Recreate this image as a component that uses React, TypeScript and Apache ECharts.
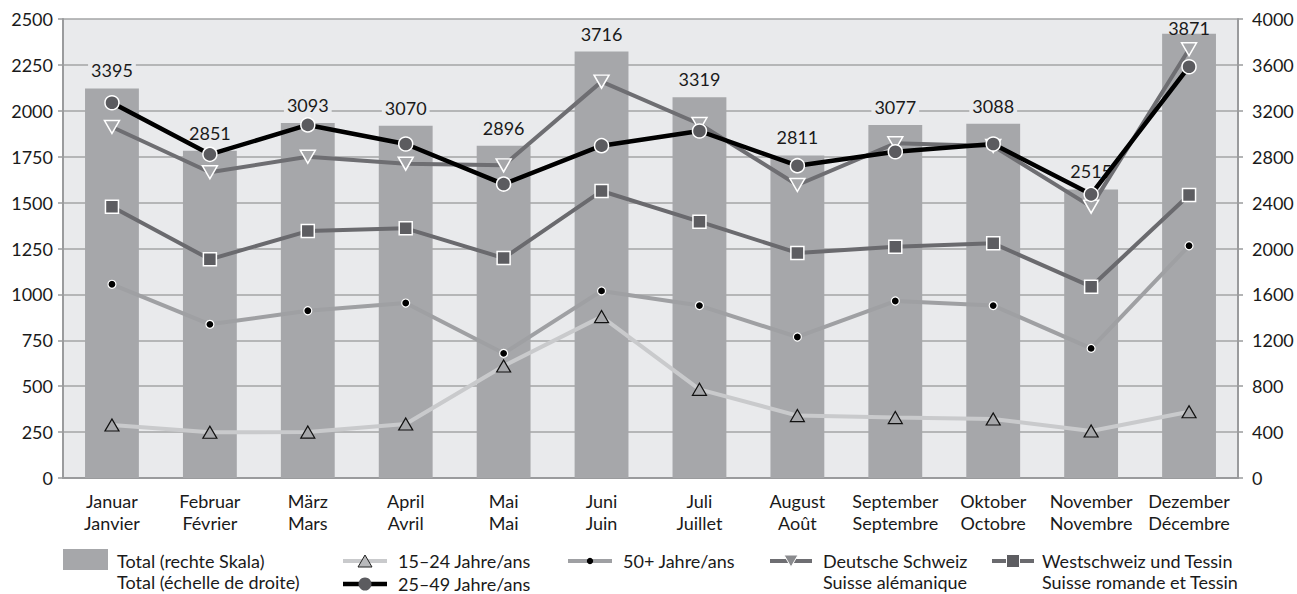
import React, { useEffect, useRef } from "react";
import * as echarts from "echarts";

const monthsDe = ["Januar", "Februar", "März", "April", "Mai", "Juni", "Juli", "August", "September", "Oktober", "November", "Dezember"];
const monthsFr = ["Janvier", "Février", "Mars", "Avril", "Mai", "Juin", "Juillet", "Août", "Septembre", "Octobre", "Novembre", "Décembre"];

const total = [3395, 2851, 3093, 3070, 2896, 3716, 3319, 2811, 3077, 3088, 2515, 3871];
const age1524 = [289, 249, 250, 294, 610, 879, 483, 340, 329, 321, 256, 361];
const age2549 = [2044, 1763, 1923, 1819, 1601, 1810, 1890, 1701, 1777, 1819, 1545, 2240];
const age50 = [1055, 837, 911, 953, 679, 1019, 939, 768, 964, 939, 706, 1265];
const deutsch = [1912, 1665, 1750, 1712, 1703, 2159, 1928, 1596, 1823, 1808, 1478, 2335];
const west = [1478, 1191, 1345, 1360, 1198, 1563, 1396, 1226, 1260, 1278, 1042, 1541];

const leftTicks = { min: 0, max: 2500, interval: 250 };
const rightTicks = { min: 0, max: 4000, interval: 400 };

const FONT = "Lato";
const TXT = "#1a1a1a";
const BAR = "#a6a7aa";

export default function App() {
  const ref = useRef<HTMLDivElement>(null);
  useEffect(() => {
    if (!ref.current) return;
    const chart = echarts.init(ref.current, null, { renderer: "svg" });
    const categories = monthsDe.map((d, i) => d + "\n" + monthsFr[i]);
    const textStyle = { fontFamily: FONT, fontSize: 18, fill: TXT };
    const plain = (v: number) => String(v);
    // labels of bars that would rise above the plot top are pulled down onto the bar
    const barData = total.map((v) =>
      v > rightTicks.max * 0.95
        ? { value: v, label: { offset: [0, 12], backgroundColor: "transparent" } }
        : v
    );
    const legendLine = (x1: number, x2: number, y: number, color: string, w: number) => ({
      type: "line",
      shape: { x1, y1: y, x2, y2: y },
      style: { stroke: color, lineWidth: w },
    });
    const option: any = {
      animation: false,
      textStyle: { fontFamily: FONT },
      grid: {
        left: 63,
        right: 59,
        top: 19,
        bottom: 116,
        show: true,
        backgroundColor: "#e9eaec",
        borderWidth: 0,
      },
      xAxis: {
        type: "category",
        data: categories,
        axisLine: { lineStyle: { color: "#9a9b9d", width: 2 } },
        axisTick: { show: false },
        axisLabel: { interval: 0, fontFamily: FONT, fontSize: 18, color: TXT, lineHeight: 22, margin: 12 },
      },
      yAxis: [
        {
          type: "value",
          ...leftTicks,
          axisLine: { show: true, lineStyle: { color: "#9a9b9d", width: 2 } },
          axisTick: { show: true, length: 5, lineStyle: { color: "#9a9b9d", width: 1.5 } },
          axisLabel: { formatter: plain, fontFamily: FONT, fontSize: 18, color: TXT, margin: 10 },
          splitLine: { show: true, lineStyle: { color: "#a3a4a6", width: 1.5 } },
        },
        {
          type: "value",
          ...rightTicks,
          position: "right",
          axisLine: { show: true, lineStyle: { color: "#9a9b9d", width: 2 } },
          axisTick: { show: true, length: 5, lineStyle: { color: "#9a9b9d", width: 1.5 } },
          axisLabel: { formatter: plain, fontFamily: FONT, fontSize: 18, color: TXT, margin: 14 },
          splitLine: { show: false },
        },
      ],
      series: [
        {
          name: "Total",
          type: "bar",
          yAxisIndex: 1,
          data: barData,
          barWidth: "55%",
          itemStyle: { color: BAR },
          z: 1,
          label: {
            show: true,
            position: "top",
            distance: 9,
            fontFamily: FONT,
            fontSize: 18,
            color: TXT,
            backgroundColor: "#e9eaec",
            padding: [0, 3],
          },
        },
        {
          name: "15–24",
          type: "line",
          data: age1524,
          z: 2,
          symbol: "triangle",
          symbolSize: [14, 12],
          lineStyle: { color: "#c9cacc", width: 4 },
          itemStyle: { color: BAR, borderColor: "#111", borderWidth: 1.2 },
        },
        {
          name: "50+",
          type: "line",
          data: age50,
          z: 3,
          symbol: "circle",
          symbolSize: 8,
          lineStyle: { color: "#9fa0a3", width: 4 },
          itemStyle: { color: "#000", borderColor: "#fff", borderWidth: 1.2 },
        },
        {
          name: "West",
          type: "line",
          data: west,
          z: 4,
          symbol: "rect",
          symbolSize: 13,
          lineStyle: { color: "#6a6a6e", width: 4 },
          itemStyle: { color: "#5d5d61", borderColor: "#fff", borderWidth: 1.5 },
        },
        {
          name: "Deutsch",
          type: "line",
          data: deutsch,
          z: 5,
          symbol: "triangle",
          symbolRotate: 180,
          symbolSize: [15, 13],
          lineStyle: { color: "#6e6e72", width: 4 },
          itemStyle: { color: BAR, borderColor: "#fff", borderWidth: 1.5 },
        },
        {
          name: "25–49",
          type: "line",
          data: age2549,
          z: 6,
          symbol: "circle",
          symbolSize: 14,
          lineStyle: { color: "#000", width: 4.5 },
          itemStyle: { color: "#5b5b5f", borderColor: "#fff", borderWidth: 1.5 },
        },
      ],
      graphic: [
        { type: "rect", shape: { x: 63, y: 549, width: 45, height: 21 }, style: { fill: BAR } },
        { type: "text", x: 117, y: 561, style: { ...textStyle, text: "Total (rechte Skala)", verticalAlign: "middle" } },
        { type: "text", x: 117, y: 582, style: { ...textStyle, text: "Total (échelle de droite)", verticalAlign: "middle" } },

        legendLine(343, 387, 561, "#c9cacc", 4),
        {
          type: "polygon",
          shape: { points: [[365, 555], [358, 567], [372, 567]] },
          style: { fill: "#b8b9bb", stroke: "#222", lineWidth: 1 },
        },
        { type: "text", x: 398, y: 561, style: { ...textStyle, text: "15–24 Jahre/ans", verticalAlign: "middle" } },

        legendLine(343, 387, 584, "#000", 4.5),
        { type: "circle", shape: { cx: 365, cy: 584, r: 6.5 }, style: { fill: "#5b5b5f" } },
        { type: "text", x: 398, y: 584, style: { ...textStyle, text: "25–49 Jahre/ans", verticalAlign: "middle" } },

        legendLine(568, 612, 561, "#9fa0a3", 4),
        { type: "circle", shape: { cx: 590, cy: 561, r: 3.2 }, style: { fill: "#000" } },
        { type: "text", x: 623, y: 561, style: { ...textStyle, text: "50+ Jahre/ans", verticalAlign: "middle" } },

        legendLine(770, 812, 561, "#6e6e72", 4),
        {
          type: "polygon",
          shape: { points: [[784, 555], [798, 555], [791, 567]] },
          style: { fill: "#8a8b8e", stroke: "#fff", lineWidth: 1 },
        },
        { type: "text", x: 823, y: 561, style: { ...textStyle, text: "Deutsche Schweiz", verticalAlign: "middle" } },
        { type: "text", x: 823, y: 582, style: { ...textStyle, text: "Suisse alémanique", verticalAlign: "middle" } },

        legendLine(992, 1034, 561, "#6a6a6e", 4),
        { type: "rect", shape: { x: 1006.5, y: 554.5, width: 13, height: 13 }, style: { fill: "#5d5d61", stroke: "#fff", lineWidth: 1 } },
        { type: "text", x: 1042, y: 561, style: { ...textStyle, text: "Westschweiz und Tessin", verticalAlign: "middle" } },
        { type: "text", x: 1042, y: 582, style: { ...textStyle, text: "Suisse romande et Tessin", verticalAlign: "middle" } },
      ],
    };
    chart.setOption(option);
    return () => chart.dispose();
  }, []);
  return (
    <div
      ref={ref}
      style={{ position: "absolute", left: 0, top: 0, width: 1297, height: 594, background: "#fff" }}
    />
  );
}
